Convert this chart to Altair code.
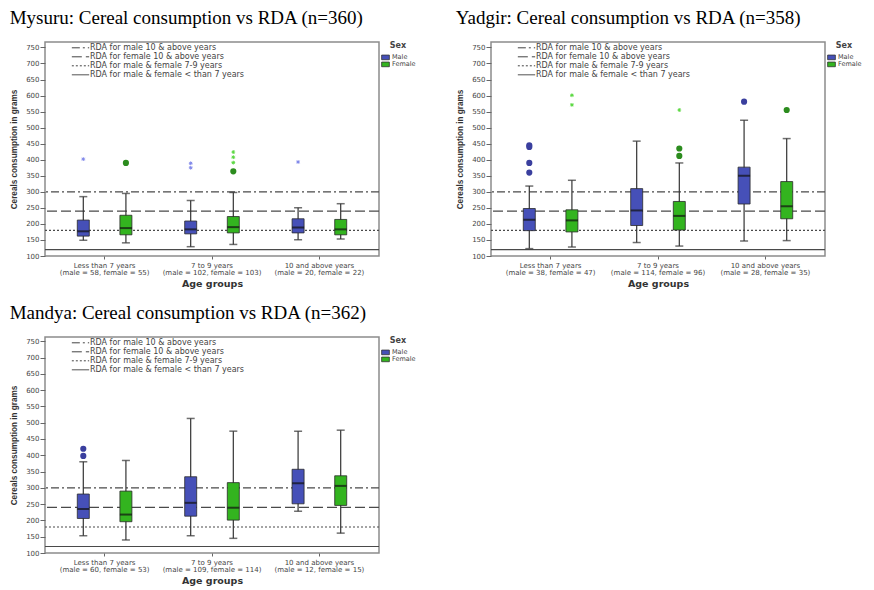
import altair as alt
import pandas as pd

AGES = ["Less than 7 years", "7 to 9 years", "10 and above years"]
SEXES = ["Male", "Female"]
SEX_COLORS = ["#4650b8", "#33b41f"]

RDA_LABELS = [
    "RDA for male 10 & above years",
    "RDA for female 10 & above years",
    "RDA for male & female 7-9 years",
    "RDA for male & female < than 7 years",
]
RDA_VALUES = [300, 240, 180, 120]
RDA_DASHES = [[8, 3, 2, 3], [10, 4], [2, 2], [1, 0]]

DISTRICTS = ["Mysuru", "Yadgir", "Mandya"]
N_TOTAL = [360, 358, 362]

# sample sizes per age group
N_MALE = {"Mysuru": [58, 102, 20], "Yadgir": [38, 114, 28], "Mandya": [60, 109, 12]}
N_FEMALE = {"Mysuru": [55, 103, 22], "Yadgir": [47, 96, 35], "Mandya": [53, 114, 15]}

# box statistics per age group: whisker low, Q1, median, Q3, whisker high
MYSURU_MALE_LO = [149, 129, 151]
MYSURU_MALE_Q1 = [162, 169, 172]
MYSURU_MALE_MED = [177, 183, 189]
MYSURU_MALE_Q3 = [212, 209, 216]
MYSURU_MALE_HI = [285, 273, 250]
MYSURU_FEMALE_LO = [141, 136, 153]
MYSURU_FEMALE_Q1 = [166, 172, 166]
MYSURU_FEMALE_MED = [187, 190, 183]
MYSURU_FEMALE_Q3 = [227, 223, 214]
MYSURU_FEMALE_HI = [295, 298, 263]

YADGIR_MALE_LO = [123, 142, 147]
YADGIR_MALE_Q1 = [179, 195, 262]
YADGIR_MALE_MED = [213, 242, 350]
YADGIR_MALE_Q3 = [248, 310, 377]
YADGIR_MALE_HI = [318, 458, 523]
YADGIR_FEMALE_LO = [128, 131, 148]
YADGIR_FEMALE_Q1 = [175, 181, 216]
YADGIR_FEMALE_MED = [211, 225, 255]
YADGIR_FEMALE_Q3 = [244, 270, 332]
YADGIR_FEMALE_HI = [336, 390, 466]

MANDYA_MALE_LO = [153, 153, 228]
MANDYA_MALE_Q1 = [206, 213, 251]
MANDYA_MALE_MED = [235, 254, 314]
MANDYA_MALE_Q3 = [281, 334, 357]
MANDYA_MALE_HI = [380, 513, 474]
MANDYA_FEMALE_LO = [140, 145, 161]
MANDYA_FEMALE_Q1 = [196, 201, 246]
MANDYA_FEMALE_MED = [218, 239, 306]
MANDYA_FEMALE_Q3 = [290, 316, 337]
MANDYA_FEMALE_HI = [384, 474, 477]

# outliers: district, age index, sex, value, kind (circle = outlier, star = extreme)
OUT_DISTRICT = ["Mysuru", "Mysuru", "Mysuru", "Mysuru", "Mysuru", "Mysuru", "Mysuru", "Mysuru", "Mysuru",
                "Yadgir", "Yadgir", "Yadgir", "Yadgir", "Yadgir", "Yadgir", "Yadgir", "Yadgir", "Yadgir", "Yadgir", "Yadgir",
                "Mandya", "Mandya"]
OUT_AGE = [0, 0, 1, 1, 1, 1, 1, 1, 2,
           0, 0, 0, 0, 2, 0, 0, 1, 1, 1, 2,
           0, 0]
OUT_SEX = ["Male", "Female", "Male", "Male", "Female", "Female", "Female", "Female", "Male",
           "Male", "Male", "Male", "Male", "Male", "Female", "Female", "Female", "Female", "Female", "Female",
           "Male", "Male"]
OUT_VALUE = [402, 390, 389, 375, 424, 408, 391, 364, 393,
             445, 440, 390, 360, 581, 601, 571, 555, 435, 412, 555,
             420, 398]
OUT_KIND = ["star", "circle", "star", "star", "star", "star", "star", "circle", "star",
            "circle", "circle", "circle", "circle", "circle", "star", "star", "star", "circle", "circle", "circle",
            "circle", "circle"]

CIRCLE_COLORS = {"Male": "#3a3f9e", "Female": "#2c8c1e"}
STAR_COLORS = {"Male": "#8088ea", "Female": "#5ad840"}

STATS = {
    "Mysuru": {
        "Male": [MYSURU_MALE_LO, MYSURU_MALE_Q1, MYSURU_MALE_MED, MYSURU_MALE_Q3, MYSURU_MALE_HI],
        "Female": [MYSURU_FEMALE_LO, MYSURU_FEMALE_Q1, MYSURU_FEMALE_MED, MYSURU_FEMALE_Q3, MYSURU_FEMALE_HI],
    },
    "Yadgir": {
        "Male": [YADGIR_MALE_LO, YADGIR_MALE_Q1, YADGIR_MALE_MED, YADGIR_MALE_Q3, YADGIR_MALE_HI],
        "Female": [YADGIR_FEMALE_LO, YADGIR_FEMALE_Q1, YADGIR_FEMALE_MED, YADGIR_FEMALE_Q3, YADGIR_FEMALE_HI],
    },
    "Mandya": {
        "Male": [MANDYA_MALE_LO, MANDYA_MALE_Q1, MANDYA_MALE_MED, MANDYA_MALE_Q3, MANDYA_MALE_HI],
        "Female": [MANDYA_FEMALE_LO, MANDYA_FEMALE_Q1, MANDYA_FEMALE_MED, MANDYA_FEMALE_Q3, MANDYA_FEMALE_HI],
    },
}

STAR_PATH = "M-1,0L1,0M0,-1L0,1M-0.7,-0.7L0.7,0.7M-0.7,0.7L0.7,-0.7"
Y_TICKS = list(range(100, 751, 50))
Y_TITLE = "Cereals consumption in grams"


def yenc(field, top):
    return alt.Y(
        f"{field}:Q",
        scale=alt.Scale(domain=[100, top], nice=False, zero=False),
        axis=alt.Axis(values=Y_TICKS, title=Y_TITLE),
    )


def panel(district, n_total, height, top):
    labels = [
        f"{a}\n(male = {m}, female = {f})"
        for a, m, f in zip(AGES, N_MALE[district], N_FEMALE[district])
    ]
    rows = []
    for sex in SEXES:
        lo, q1, med, q3, hi = STATS[district][sex]
        for i in range(3):
            rows.append({"age": labels[i], "sex": sex, "lo": lo[i], "q1": q1[i],
                         "med": med[i], "q3": q3[i], "hi": hi[i]})
    stats = pd.DataFrame(rows)
    outs = pd.DataFrame([
        {"age": labels[a], "sex": s, "value": v, "kind": k,
         "col": CIRCLE_COLORS[s] if k == "circle" else STAR_COLORS[s]}
        for d, a, s, v, k in zip(OUT_DISTRICT, OUT_AGE, OUT_SEX, OUT_VALUE, OUT_KIND)
        if d == district
    ])
    rda = pd.DataFrame({"rda": RDA_LABELS, "value": RDA_VALUES})

    x = alt.X(
        "age:N",
        sort=labels,
        scale=alt.Scale(domain=labels, paddingInner=0, paddingOuter=0.055),
        axis=alt.Axis(title="Age groups", labelExpr="split(datum.label, '\\n')", labelAngle=0),
    )
    xo = alt.XOffset("sex:N", scale=alt.Scale(domain=SEXES, paddingInner=0, paddingOuter=0.26))

    rules = alt.Chart(rda).mark_rule(color="#4a4a4a", strokeWidth=1.1).encode(
        y=yenc("value", top),
        strokeDash=alt.StrokeDash(
            "rda:N",
            scale=alt.Scale(domain=RDA_LABELS, range=RDA_DASHES),
            legend=alt.Legend(
                title=None, orient="none", legendX=26, legendY=2,
                labelFontSize=8, labelColor="#444", labelFont="DejaVu Sans",
                symbolType="stroke", symbolSize=300, symbolStrokeWidth=1,
                symbolStrokeColor="#444", rowPadding=0, labelOffset=0, padding=0,
                clipHeight=7.6,
            ),
        ),
    )
    base = alt.Chart(stats)
    whisk = base.mark_rule(color="#333", strokeWidth=1.2).encode(x=x, xOffset=xo, y=yenc("lo", top), y2="hi:Q")
    cap_lo = base.mark_tick(color="#333", size=8, thickness=1.5).encode(x=x, xOffset=xo, y=yenc("lo", top))
    cap_hi = base.mark_tick(color="#333", size=8, thickness=1.5).encode(x=x, xOffset=xo, y=yenc("hi", top))
    box = base.mark_bar(size=12, stroke="#2a2a2a", strokeWidth=0.8, opacity=1).encode(
        x=x, xOffset=xo, y=yenc("q1", top), y2="q3:Q",
        color=alt.Color(
            "sex:N",
            scale=alt.Scale(domain=SEXES, range=SEX_COLORS),
            legend=alt.Legend(
                title="Sex", orient="right", offset=2, padding=0,
                titleFontSize=8, titleFont="DejaVu Sans", titleFontWeight="bold", titleColor="#444",
                titleAnchor="middle", titlePadding=4,
                labelFontSize=6.5, labelFont="DejaVu Sans", labelColor="#444",
                symbolType="M-1,-0.6H1V0.6H-1Z", symbolSize=60,
                symbolStrokeColor="#333", symbolStrokeWidth=0.8, symbolOpacity=1,
                rowPadding=0, labelOffset=2, clipHeight=6.8,
            ),
        ),
    )
    med = base.mark_tick(color="#111", size=12, thickness=2).encode(x=x, xOffset=xo, y=yenc("med", top))
    circ = alt.Chart(outs).transform_filter(alt.datum.kind == "circle").mark_point(
        shape="circle", filled=True, size=38, opacity=1
    ).encode(x=x, xOffset=xo, y=yenc("value", top), fill=alt.Fill("col:N", scale=None))
    star = alt.Chart(outs).transform_filter(alt.datum.kind == "star").mark_point(
        shape=STAR_PATH, filled=False, size=14, strokeWidth=1, opacity=1
    ).encode(x=x, xOffset=xo, y=yenc("value", top), stroke=alt.Stroke("col:N", scale=None))

    return alt.layer(rules, whisk, cap_lo, cap_hi, box, med, circ, star).properties(
        width=334, height=height,
        title=alt.TitleParams(
            f"{district}: Cereal consumption vs RDA (n={n_total})",
            font="Liberation Serif", fontSize=19, fontWeight="normal", color="black",
            anchor="start", frame="bounds", offset=14,
        ),
    )


p1 = panel("Mysuru", 360, 214, 767)
p2 = panel("Yadgir", 358, 214, 767)
p3 = panel("Mandya", 362, 216, 763)

chart = alt.vconcat(
    alt.hconcat(p1, p2, spacing=37).resolve_scale(
        x="independent", color="independent", strokeDash="independent"
    ).resolve_legend(color="independent", strokeDash="independent"),
    p3,
    spacing=14,
).resolve_scale(
    x="independent", color="independent", strokeDash="independent"
).resolve_legend(color="independent", strokeDash="independent").properties(
    padding=0, background="white"
).configure_view(
    stroke="#8c8c8c", strokeWidth=1.5
).configure_axis(
    labelFont="DejaVu Sans", labelFontSize=7, labelColor="#444",
    titleFont="DejaVu Sans", titleColor="#333", grid=False, domain=False,
    tickColor="#666",
).configure_axisY(
    tickSize=5, labelPadding=1, titleFont="Liberation Sans",
    titleFontSize=8.2, titleFontWeight="bold", titlePadding=7,
).configure_axisX(
    tickSize=3, labelPadding=2, labelLineHeight=7.5, titleFontSize=9.5,
    titleFontWeight="bold", titlePadding=3,
)

chart.save("out.html", embed_options={"renderer": "svg", "actions": False})
